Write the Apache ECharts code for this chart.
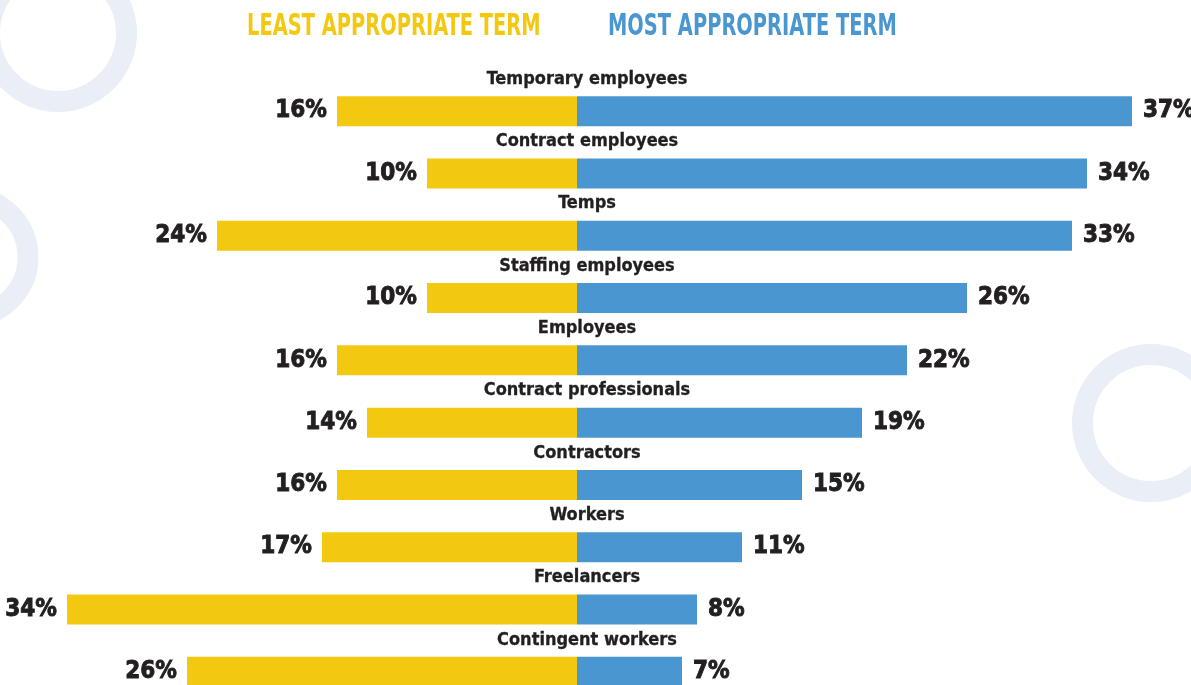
<!DOCTYPE html>
<html>
<head>
<meta charset="utf-8">
<style>
  html, body { margin: 0; padding: 0; background: #ffffff; }
  #chart { width: 1191px; height: 685px; }
</style>
<script src="https://cdn.jsdelivr.net/npm/echarts@6/dist/echarts.min.js"></script>
</head>
<body>
<div id="chart"></div>
<script>
// Terms used for staffing workers, ranked by "most appropriate" share
const terms = [
  'Temporary employees', 'Contract employees', 'Temps', 'Staffing employees',
  'Employees', 'Contract professionals', 'Contractors', 'Workers',
  'Freelancers', 'Contingent workers'
];
const mostAppropriate  = [37, 34, 33, 26, 22, 19, 15, 11, 8, 7];
const leastAppropriate = [16, 10, 24, 10, 16, 14, 16, 17, 34, 26];
const seriesNames = ['LEAST APPROPRIATE TERM', 'MOST APPROPRIATE TERM'];

const YELLOW = '#F2C811';
const BLUE = '#4A96D0';
const INK = '#231F20';
const RING = '#E9EEF7';
const NARROW = "'DejaVu Sans Condensed', 'DejaVu Sans', sans-serif";

const chart = echarts.init(document.getElementById('chart'), null, { renderer: 'canvas' });

const ring = (cx, cy, r) => ({
  type: 'circle', z: -10, silent: true,
  shape: { cx: cx, cy: cy, r: r },
  style: { fill: 'none', stroke: RING, lineWidth: 21 }
});

// condensed heading text, squeezed horizontally
const heading = (x, text, color) => ({
  type: 'text', x: x, y: 12, scaleX: 0.72, silent: true,
  style: {
    text: text, fill: color,
    font: "bold 30px 'DejaVu Sans Condensed', sans-serif",
    textVerticalAlign: 'top'
  }
});

// heavy percentage labels
const valueLabel = (position, distance) => ({
  show: true, position: position, distance: distance,
  formatter: p => Math.abs(p.value) + '%',
  fontFamily: NARROW, fontSize: 24, fontWeight: 'bold', color: INK,
  textBorderColor: INK, textBorderWidth: 0.9
});

chart.setOption({
  animation: false,
  backgroundColor: '#ffffff',
  graphic: [
    ring(58, 33, 68.5),
    ring(-32, 257, 60),
    ring(1151, 423, 68.5),
    heading(247, seriesNames[0], YELLOW),
    heading(608, seriesNames[1], BLUE)
  ],
  grid: {
    left: 37, top: 80, width: 1140, height: 623,
    containLabel: false, outerBoundsMode: 'none'
  },
  xAxis: {
    type: 'value', min: -36, max: 40,
    show: false
  },
  yAxis: {
    type: 'category', data: terms, inverse: true,
    show: false
  },
  series: [
    {
      name: seriesNames[0],
      type: 'bar',
      data: leastAppropriate.map(v => -v),
      barWidth: 30,
      barGap: '-100%',
      itemStyle: { color: YELLOW },
      label: valueLabel('left', 10)
    },
    {
      name: seriesNames[1],
      type: 'bar',
      data: mostAppropriate,
      barWidth: 30,
      barGap: '-100%',
      itemStyle: { color: BLUE },
      label: valueLabel('right', 11)
    },
    {
      // category names sit above each pair of bars
      name: 'terms',
      type: 'scatter',
      symbolSize: 0,
      silent: true,
      itemStyle: { opacity: 1 },
      data: terms.map(t => [0.667, t]),
      label: {
        show: true, position: 'inside', offset: [0, -32],
        formatter: p => p.value[1],
        fontFamily: NARROW, fontSize: 18, fontWeight: 'bold', color: INK,
        textBorderColor: INK, textBorderWidth: 0.3
      }
    }
  ]
});
</script>
</body>
</html>
